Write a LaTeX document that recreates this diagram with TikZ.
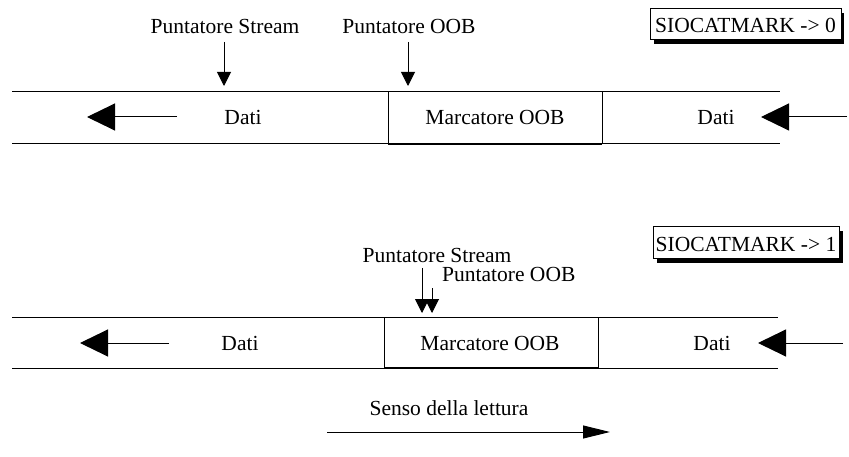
\documentclass[tikz,border=0pt]{standalone}
\usepackage{fontspec}
\setmainfont{Liberation Serif}
\usetikzlibrary{arrows.meta}
\tikzset{
  lbl/.style={inner sep=0pt, anchor=base, font=\fontsize{21.5}{24}\selectfont},
  rule/.style={line width=1pt},
  ptr/.style={line width=1pt, -{Triangle[length=14pt,width=14pt]}},
  flow/.style={line width=1pt, -{Triangle[length=28pt,width=27pt]}},
  dir/.style={line width=1pt, -{Triangle[length=27pt,width=13pt]}},
  flag/.style={draw, line width=1pt, fill=white, inner sep=0pt},
}
\begin{document}
\begin{tikzpicture}[x=1pt,y=-1pt]
\useasboundingbox (0,0) rectangle (849,457);

% ---------- first strip: SIOCATMARK -> 0 ----------
\fill (654,13) rectangle (844,44);
\draw[flag] (650,9) rectangle (841,40);
\node[lbl] (m0) at (745.5,33) {SIOCATMARK -> 0};

\coordinate (a1l) at (12,92);  \coordinate (a1r) at (780,92);
\coordinate (b1l) at (12,144); \coordinate (b1r) at (780,144);
\draw[rule] (a1l) -- (a1r);
\draw[rule] (b1l) -- (b1r);
\draw[rule] (388,92) rectangle (602,144);
\draw[line width=2pt] (388,144) -- (602,144);

\node[lbl] (ps1) at (225,34) {Puntatore Stream};
\node[lbl] (po1) at (409,34) {Puntatore OOB};
\coordinate (ps1t) at (224,86);
\coordinate (po1t) at (408,86);
\draw[ptr] (224,42) -- (ps1t);
\draw[ptr] (408,42) -- (po1t);

\node[lbl] (d1l) at (243,125) {Dati};
\node[lbl] (mk1) at (495,125) {Marcatore OOB};
\node[lbl] (d1r) at (716,125) {Dati};
\coordinate (l1s) at (177,117); \coordinate (l1e) at (87,117);
\coordinate (r1s) at (847,117); \coordinate (r1e) at (761,117);
\draw[flow] (l1s) -- (l1e);
\draw[flow] (r1s) -- (r1e);

% ---------- second strip: SIOCATMARK -> 1 ----------
\fill (657,231) rectangle (843,263);
\draw[flag] (653,227) rectangle (839,259);
\node[lbl] (m1) at (746,252) {SIOCATMARK -> 1};

\coordinate (a2l) at (12,317);  \coordinate (a2r) at (778,317);
\coordinate (b2l) at (12,368);  \coordinate (b2r) at (778,368);
\draw[rule] (a2l) -- (a2r);
\draw[rule] (b2l) -- (b2r);
\draw[rule] (384,317) rectangle (598,368);
\draw[line width=2pt] (384,368) -- (598,368);

\node[lbl] (ps2) at (437,262) {Puntatore Stream};
\node[lbl, anchor=base west] (po2) at (442,281) {Puntatore OOB};
\draw[ptr] (422,268) -- (422,313);
\draw[ptr] (432,288) -- (432,313);

\node[lbl] (d2l) at (240,350) {Dati};
\node[lbl] (mk2) at (490,350) {Marcatore OOB};
\node[lbl] (d2r) at (712,350) {Dati};
\coordinate (l2s) at (169,343); \coordinate (l2e) at (80,343);
\coordinate (r2s) at (843,343); \coordinate (r2e) at (758,343);
\draw[flow] (l2s) -- (l2e);
\draw[flow] (r2s) -- (r2e);

% ---------- reading direction ----------
\node[lbl] (sl) at (449,415) {Senso della lettura};
\coordinate (ss) at (327,432); \coordinate (se) at (610,432);
\draw[dir] (ss) -- (se);
\end{tikzpicture}
\end{document}
